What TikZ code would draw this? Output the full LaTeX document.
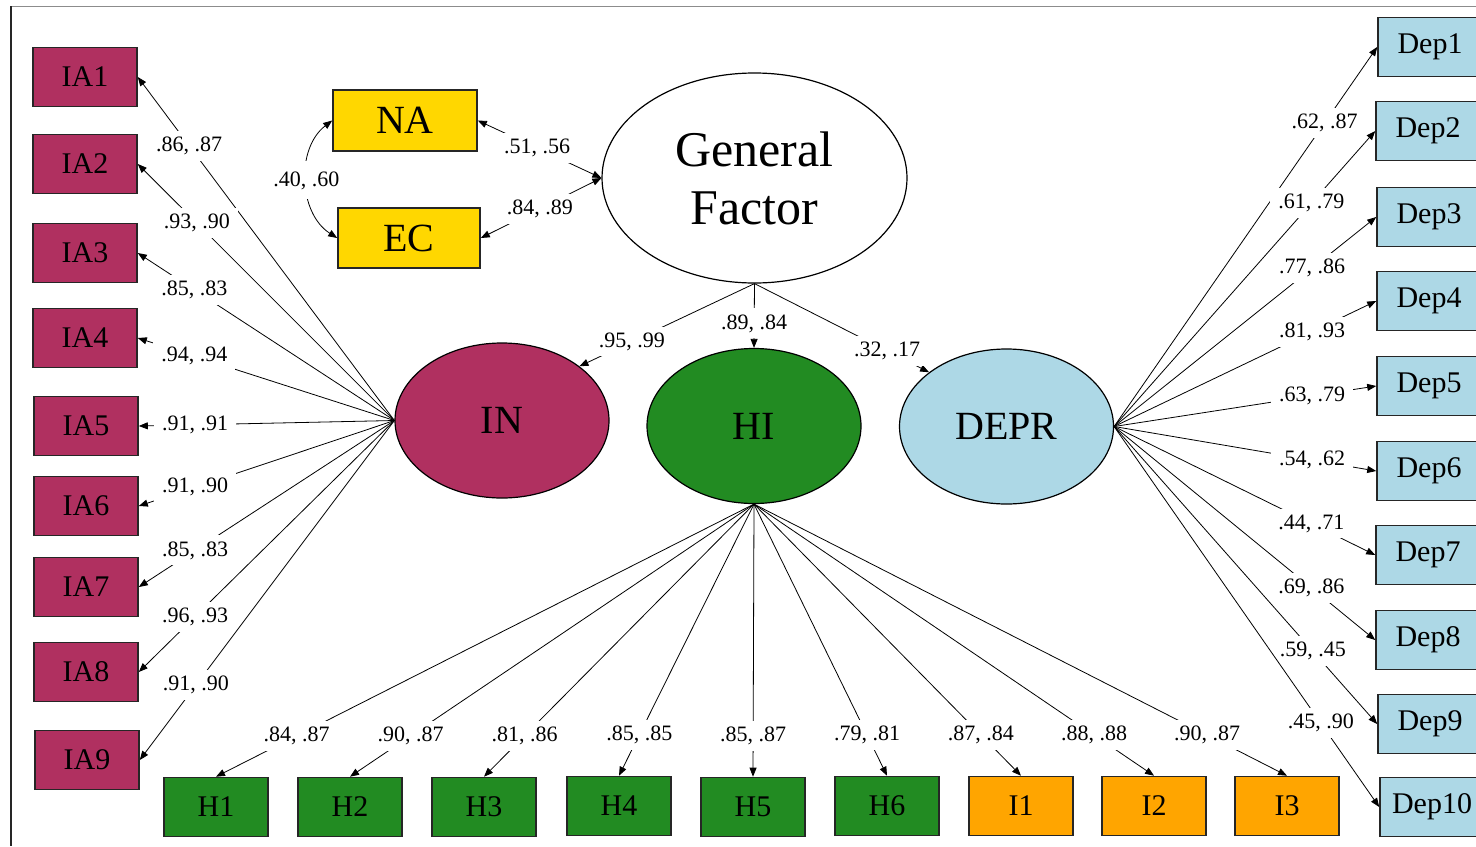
\documentclass[tikz,border=0pt]{standalone}
\usepackage{fontspec}
\setmainfont{Liberation Serif}
\usepackage{tikz}
\usetikzlibrary{shapes.geometric}
\usetikzlibrary{arrows.meta}
\definecolor{iacol}{RGB}{176,48,96}
\definecolor{hicol}{RGB}{34,139,34}
\definecolor{depcol}{RGB}{173,216,230}
\definecolor{nacol}{RGB}{255,215,0}
\definecolor{icol}{RGB}{255,165,0}
\tikzset{
  item/.style={draw=black!85, line width=0.8pt, minimum width=52pt, minimum height=29.5pt, inner sep=0pt, font=\fontsize{15}{16}\selectfont},
  latent/.style={ellipse, draw, line width=0.6pt, minimum width=107pt, minimum height=77.5pt, inner sep=0pt, font=\fontsize{20}{22}\selectfont},
  load/.style={-{Triangle[length=4.5pt,width=3.5pt]}, line width=0.4pt},
  wt/.style={fill=white, inner xsep=4pt, inner ysep=3pt, font=\fontsize{11}{12}\selectfont}
}

\begin{document}
\begin{tikzpicture}[x=0.5pt,y=-0.5pt]
    \clip (0,0) rectangle (1476,846);
    \draw[black!45, line width=0.5pt] (11,6) -- (1476,6);
    \draw[black!85, line width=0.6pt] (11,6) -- (11,846);

    % Factors
    \node[latent, minimum width=152.5pt, minimum height=105pt, align=center, font=\fontsize{25}{29}\selectfont] (GF) at (754.5,178) {General\\Factor};
    \node[latent, fill=iacol] (IN) at (502,420.5) {IN};
    \node[latent, fill=hicol] (HI) at (754,426) {HI};
    \node[latent, fill=depcol] (DEPR) at (1006.5,426.5) {DEPR};

    \node[item, fill=nacol, minimum width=72pt, minimum height=30.5pt, font=\fontsize{20}{22}\selectfont] (NA) at (405,120.5) {NA};
    \node[item, fill=nacol, minimum width=71pt, minimum height=30pt, font=\fontsize{20}{22}\selectfont] (EC) at (409,238) {EC};

    % IA items
    \node[item, fill=iacol] (IA1) at (85,77) {IA1};
    \node[item, fill=iacol] (IA2) at (85,164) {IA2};
    \node[item, fill=iacol] (IA3) at (85,253) {IA3};
    \node[item, fill=iacol] (IA4) at (85,338) {IA4};
    \node[item, fill=iacol] (IA5) at (86,426) {IA5};
    \node[item, fill=iacol] (IA6) at (86,506) {IA6};
    \node[item, fill=iacol] (IA7) at (86,587) {IA7};
    \node[item, fill=iacol] (IA8) at (86,672) {IA8};
    \node[item, fill=iacol] (IA9) at (87,760) {IA9};

    % Dep items
    \node[item, fill=depcol] (Dep1) at (1430,47) {Dep1};
    \node[item, fill=depcol] (Dep2) at (1428,131) {Dep2};
    \node[item, fill=depcol] (Dep3) at (1429,217) {Dep3};
    \node[item, fill=depcol] (Dep4) at (1429,301) {Dep4};
    \node[item, fill=depcol] (Dep5) at (1429,386) {Dep5};
    \node[item, fill=depcol] (Dep6) at (1429,471) {Dep6};
    \node[item, fill=depcol] (Dep7) at (1428,555) {Dep7};
    \node[item, fill=depcol] (Dep8) at (1428,640) {Dep8};
    \node[item, fill=depcol] (Dep9) at (1430,724) {Dep9};
    \node[item, fill=depcol] (Dep10) at (1432,807) {Dep10};

    % H and I items
    \node[item, fill=hicol] (H1) at (216,807) {H1};
    \node[item, fill=hicol] (H2) at (350,807) {H2};
    \node[item, fill=hicol] (H3) at (484,807) {H3};
    \node[item, fill=hicol] (H4) at (619,806) {H4};
    \node[item, fill=hicol] (H5) at (753,807) {H5};
    \node[item, fill=hicol] (H6) at (887,806) {H6};
    \node[item, fill=icol] (I1) at (1021,806) {I1};
    \node[item, fill=icol] (I2) at (1154,806) {I2};
    \node[item, fill=icol] (I3) at (1287,806) {I3};

    % General factor paths
    \draw[load, {Triangle[length=4.5pt,width=3.5pt]}-{Triangle[length=4.5pt,width=3.5pt]}] (GF.west) -- node[wt, pos=0.52] {.51, .56} (NA.east);
    \draw[load, {Triangle[length=4.5pt,width=3.5pt]}-{Triangle[length=4.5pt,width=3.5pt]}] (GF.west) -- node[wt, pos=0.51] {.84, .89} (EC.east);
    \draw[load, {Triangle[length=4.5pt,width=3.5pt]}-{Triangle[length=4.5pt,width=3.5pt]}] (NA.west) to[bend right=55] node[wt, inner ysep=5pt] {.40, .60} (EC.west);
    \draw[load] (GF.south) -- node[wt, pos=0.7] {.95, .99} (IN.35);
    \draw[load] (GF.south) -- node[wt, pos=0.62] {.89, .84} (HI.north);
    \draw[load] (GF.south) -- node[wt, pos=0.76] {.32, .17} (DEPR.145);

    % IN loadings
    \draw[load] (IN.west) -- node[wt, pos=0.8] {.86, .87} (IA1.east);
    \draw[load] (IN.west) -- node[wt, pos=0.77] {.93, .90} (IA2.east);
    \draw[load] (IN.west) -- node[wt, pos=0.78] {.85, .83} (IA3.east);
    \draw[load] (IN.west) -- node[wt, pos=0.78] {.94, .94} (IA4.east);
    \draw[load] (IN.west) -- node[wt, pos=0.78] {.91, .91} (IA5.east);
    \draw[load] (IN.west) -- node[wt, pos=0.78] {.91, .90} (IA6.east);
    \draw[load] (IN.west) -- node[wt, pos=0.78] {.85, .83} (IA7.east);
    \draw[load] (IN.west) -- node[wt, pos=0.78] {.96, .93} (IA8.east);
    \draw[load] (IN.west) -- node[wt, pos=0.78] {.91, .90} (IA9.east);

    % DEPR loadings
    \draw[load] (DEPR.east) -- node[wt, pos=0.8] {.62, .87} (Dep1.west);
    \draw[load] (DEPR.east) -- node[wt, pos=0.755] {.61, .79} (Dep2.west);
    \draw[load] (DEPR.east) -- node[wt, pos=0.755] {.77, .86} (Dep3.west);
    \draw[load] (DEPR.east) -- node[wt, pos=0.755] {.81, .93} (Dep4.west);
    \draw[load] (DEPR.east) -- node[wt, pos=0.755] {.63, .79} (Dep5.west);
    \draw[load] (DEPR.east) -- node[wt, pos=0.755] {.54, .62} (Dep6.west);
    \draw[load] (DEPR.east) -- node[wt, pos=0.755] {.44, .71} (Dep7.west);
    \draw[load] (DEPR.east) -- node[wt, pos=0.755] {.69, .86} (Dep8.west);
    \draw[load] (DEPR.east) -- node[wt, pos=0.755] {.59, .45} (Dep9.west);
    \draw[load] (DEPR.east) -- node[wt, pos=0.78] {.45, .90} (Dep10.west);

    % HI loadings
    \draw[load] (HI.south) -- node[wt, pos=0.85] {.84, .87} (H1.north);
    \draw[load] (HI.south) -- node[wt, pos=0.85] {.90, .87} (H2.north);
    \draw[load] (HI.south) -- node[wt, pos=0.85] {.81, .86} (H3.north);
    \draw[load] (HI.south) -- node[wt, pos=0.85] {.85, .85} (H4.north);
    \draw[load] (HI.south) -- node[wt, pos=0.85] {.85, .87} (H5.north);
    \draw[load] (HI.south) -- node[wt, pos=0.85] {.79, .81} (H6.north);
    \draw[load] (HI.south) -- node[wt, pos=0.85] {.87, .84} (I1.north);
    \draw[load] (HI.south) -- node[wt, pos=0.85] {.88, .88} (I2.north);
    \draw[load] (HI.south) -- node[wt, pos=0.85] {.90, .87} (I3.north);
\end{tikzpicture}
\end{document}
